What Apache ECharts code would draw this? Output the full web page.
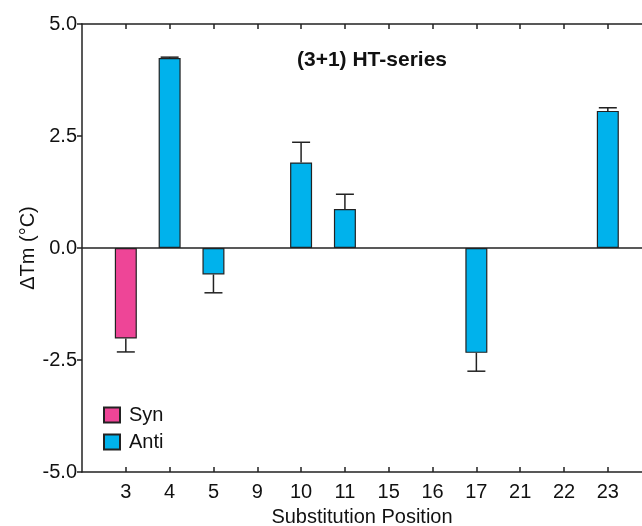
<!DOCTYPE html>
<html>
<head>
<meta charset="utf-8">
<script src="https://cdn.jsdelivr.net/npm/echarts@6/dist/echarts.min.js"></script>
<style>
  html, body { margin: 0; padding: 0; background: #fff; }
  #chart { width: 642px; height: 526px; }
</style>
</head>
<body>
<div id="chart"></div>
<script>
// substitution positions along the x axis
const positions = ['3', '4', '5', '9', '10', '11', '15', '16', '17', '21', '22', '23']
// which conformation each substitution takes
const conformation = ['Syn', 'Anti', 'Anti', null, 'Anti', 'Anti', null, null, 'Anti', null, null, 'Anti']
// ΔTm values (°C), null = no bar
const deltaTm = [-2.02, 4.24, -0.59, null, 1.91, 0.87, null, null, -2.34, null, null, 3.06]
// one-sided error (away from zero)
const errors = [0.30, 0.02, 0.41, null, 0.45, 0.33, null, null, 0.41, null, null, 0.07]
const yTicks = [-5, -2.5, 0, 2.5, 5]

const SYN = '#EE4597'
const ANTI = '#00B2EC'
const INK = '#222'
const FONT = '"Liberation Sans", Arial, sans-serif'

const chart = echarts.init(document.getElementById('chart'), null, { renderer: 'canvas' })

function barData(kind) {
  const out = []
  positions.forEach((p, i) => {
    if (conformation[i] === kind) out.push([i + 1, deltaTm[i]])
  })
  return out
}

const errData = []
positions.forEach((p, i) => {
  if (deltaTm[i] == null) return
  const v = deltaTm[i]
  const end = v >= 0 ? v + errors[i] : v - errors[i]
  errData.push([i + 1, v, end])
})

const tickSlots = positions.map((p, i) => i + 1)
// the frame runs off the right edge of the picture
const xMax = 12.78

const option = {
  backgroundColor: '#fff',
  animation: false,
  textStyle: { fontFamily: FONT },
  title: {
    text: '(3+1) HT-series',
    left: 367,
    top: 45,
    textAlign: 'center',
    textStyle: { fontFamily: FONT, fontSize: 21, fontWeight: 'bold', color: '#111' }
  },
  legend: {
    orient: 'vertical',
    left: 98,
    top: 400,
    itemWidth: 16,
    itemHeight: 15,
    itemGap: 7,
    icon: 'rect',
    textStyle: { fontFamily: FONT, fontSize: 20, color: '#111', padding: [0, 0, 0, 4] },
    data: ['Syn', 'Anti']
  },
  grid: { left: 82, top: 24, right: 0, bottom: 54, outerBoundsMode: 'none' },
  xAxis: [{
    type: 'value',
    min: 0,
    max: xMax,
    position: 'bottom',
    name: 'Substitution Position',
    nameLocation: 'middle',
    nameGap: 35,
    nameTextStyle: { fontFamily: FONT, fontSize: 20, color: '#111' },
    axisLine: { onZero: false, lineStyle: { color: INK, width: 1.5 } },
    axisTick: { inside: true, length: 5, customValues: tickSlots, lineStyle: { color: INK, width: 1.5 } },
    axisLabel: {
      fontFamily: FONT, fontSize: 20, color: '#111', margin: 10,
      customValues: tickSlots,
      formatter: v => positions[v - 1] || ''
    },
    splitLine: { show: false }
  }, {
    type: 'value',
    min: 0,
    max: xMax,
    position: 'top',
    axisLine: { onZero: false, lineStyle: { color: INK, width: 1.5 } },
    axisTick: { inside: true, length: 5, customValues: tickSlots, lineStyle: { color: INK, width: 1.5 } },
    axisLabel: { show: false },
    splitLine: { show: false }
  }],
  yAxis: {
    type: 'value',
    min: yTicks[0],
    max: yTicks[yTicks.length - 1],
    interval: 2.5,
    name: 'ΔTm (°C)',
    nameLocation: 'middle',
    nameGap: 44,
    nameMoveOverlap: false,
    nameTextStyle: { fontFamily: FONT, fontSize: 20, color: '#111' },
    axisLine: { lineStyle: { color: INK, width: 1.5 } },
    axisTick: { length: 5, lineStyle: { color: INK, width: 1.5 } },
    axisLabel: {
      fontFamily: FONT, fontSize: 20, color: '#111', margin: 5,
      formatter: v => v.toFixed(1)
    },
    splitLine: { show: false }
  },
  series: [{
    name: 'Syn',
    type: 'bar',
    barWidth: 22,
    barGap: '-100%',
    data: barData('Syn'),
    itemStyle: { color: SYN, borderColor: INK, borderWidth: 1.2 },
    markLine: {
      silent: true,
      symbol: 'none',
      label: { show: false },
      lineStyle: { color: INK, width: 1.5, type: 'solid' },
      data: [{ yAxis: 0 }]
    },
    z: 2
  }, {
    name: 'Anti',
    type: 'bar',
    barWidth: 22,
    barGap: '-100%',
    data: barData('Anti'),
    itemStyle: { color: ANTI, borderColor: INK, borderWidth: 1.2 },
    z: 2
  }, {
    name: 'err',
    type: 'custom',
    data: errData,
    z: 3,
    renderItem: function (params, api) {
      const x = api.value(0)
      const p0 = api.coord([x, api.value(1)])
      const p1 = api.coord([x, api.value(2)])
      const half = 9
      return {
        type: 'group',
        children: [{
          type: 'line',
          shape: { x1: p0[0], y1: p0[1], x2: p1[0], y2: p1[1] },
          style: { stroke: INK, lineWidth: 1.5 }
        }, {
          type: 'line',
          shape: { x1: p1[0] - half, y1: p1[1], x2: p1[0] + half, y2: p1[1] },
          style: { stroke: INK, lineWidth: 1.5 }
        }]
      }
    }
  }]
}

chart.setOption(option)
</script>
</body>
</html>
